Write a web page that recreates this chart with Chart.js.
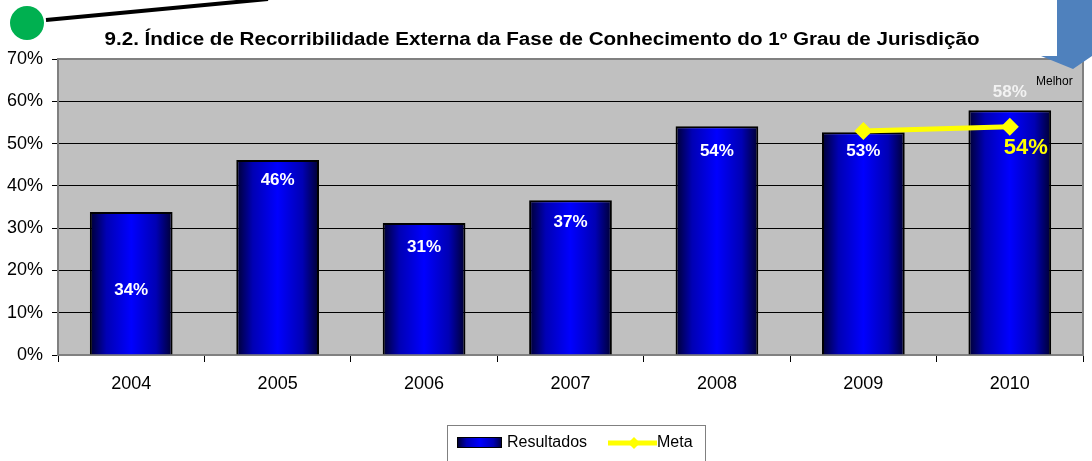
<!DOCTYPE html>
<html>
<head>
<meta charset="utf-8">
<script src="https://cdn.jsdelivr.net/npm/chart.js@4/dist/chart.umd.min.js"></script>
<style>
    html, body { margin: 0; padding: 0; background: #fff; }
    #wrap { width: 1092px; height: 461px; position: relative; }
</style>
</head>
<body>
<div id="wrap"><canvas id="chart" width="1092" height="461"></canvas></div>
<script>
const years = ['2004', '2005', '2006', '2007', '2008', '2009', '2010'];
const resultados = [33.8, 46.1, 31.2, 36.6, 54.1, 52.7, 57.9];
const resultadosLabels = ['34%', '46%', '31%', '37%', '54%', '53%', '58%'];
const meta = [null, null, null, null, null, 53, 54];
const metaLabels = [null, null, null, null, null, null, '54%'];
const yTicks = [0, 10, 20, 30, 40, 50, 60, 70];

const titleText = '9.2. Índice de Recorribilidade Externa da Fase de Conhecimento do 1º Grau de Jurisdição';

// where each bar label sits (value units), as placed in the original
const labelAt = [15.4, 41.4, 25.5, 31.4, 48.2, 48.2, 62.2];
const metaLabelAt = [null, null, null, null, null, null, 48.9];

const FONT = 'Arial, "Liberation Sans", sans-serif';
const BAR_PCT = 0.565;

function barGradient(ctx, cx, w) {
    const g = ctx.createLinearGradient(cx - w / 2, 0, cx + w / 2, 0);
    g.addColorStop(0, '#000030');
    g.addColorStop(0.2, '#0000b4');
    g.addColorStop(0.5, '#0000ff');
    g.addColorStop(0.8, '#0000b4');
    g.addColorStop(1, '#000030');
    return g;
}

const decorPlugin = {
    id: 'decor',
    beforeDraw(chart) {
        const { ctx, chartArea: a } = chart;
        ctx.save();
        ctx.fillStyle = '#c0c0c0';
        ctx.fillRect(a.left, a.top, a.right - a.left, a.bottom - a.top);
        ctx.restore();
    },
    beforeDatasetsDraw(chart) {
        const { ctx, chartArea: a } = chart;
        ctx.save();
        ctx.strokeStyle = '#808080';
        ctx.lineWidth = 2;
        ctx.strokeRect(a.left, a.top, a.right - a.left, a.bottom - a.top);
        ctx.restore();
    },
    afterDraw(chart) {
        const { ctx } = chart;
        const x = chart.scales.x, y = chart.scales.y;
        ctx.save();

        // bar labels
        ctx.textAlign = 'center';
        ctx.textBaseline = 'middle';
        resultadosLabels.forEach((t, i) => {
            ctx.fillStyle = i === 6 ? '#f2f2f2' : '#ffffff';
            ctx.font = 'bold 17px ' + FONT;
            ctx.fillText(t, x.getPixelForValue(i), y.getPixelForValue(labelAt[i]));
        });
        metaLabels.forEach((t, i) => {
            if (!t) return;
            ctx.fillStyle = '#ffff00';
            ctx.font = 'bold 22px ' + FONT;
            ctx.fillText(t, x.getPixelForValue(i) + 16, y.getPixelForValue(metaLabelAt[i]));
        });

        // title, stretched a bit like the original
        ctx.fillStyle = '#000';
        ctx.font = 'bold 18px ' + FONT;
        const tw = ctx.measureText(titleText).width;
        ctx.save();
        ctx.translate(542, 40);
        ctx.scale(875 / tw, 1);
        ctx.fillText(titleText, 0, 0);
        ctx.restore();

        // green dot with line
        ctx.strokeStyle = '#000';
        ctx.lineWidth = 4;
        ctx.beginPath();
        ctx.moveTo(46, 20);
        ctx.lineTo(268, -1);
        ctx.stroke();
        ctx.fillStyle = '#00b050';
        ctx.beginPath();
        ctx.arc(27, 23, 17, 0, Math.PI * 2);
        ctx.fill();

        // blue arrow (Melhor)
        ctx.fillStyle = '#4f81bd';
        ctx.beginPath();
        ctx.moveTo(1057, 0);
        ctx.lineTo(1092, 0);
        ctx.lineTo(1092, 56);
        ctx.lineTo(1073, 69);
        ctx.lineTo(1041, 56);
        ctx.lineTo(1057, 56);
        ctx.closePath();
        ctx.fill();
        ctx.fillStyle = '#000';
        ctx.font = '12px ' + FONT;
        ctx.textAlign = 'left';
        ctx.fillText('Melhor', 1036, 82);

        // legend
        ctx.strokeStyle = '#808080';
        ctx.lineWidth = 1;
        ctx.fillStyle = '#fff';
        ctx.fillRect(447.5, 425.5, 258, 36);
        ctx.strokeRect(447.5, 425.5, 258, 36);
        ctx.fillStyle = barGradient(ctx, 480, 45);
        ctx.fillRect(457, 437, 45, 11);
        ctx.strokeStyle = '#000';
        ctx.strokeRect(457.5, 437.5, 44, 10);
        ctx.fillStyle = '#000';
        ctx.font = '16px ' + FONT;
        ctx.textBaseline = 'middle';
        ctx.fillText('Resultados', 507, 443);
        ctx.strokeStyle = '#ffff00';
        ctx.lineWidth = 5;
        ctx.beginPath();
        ctx.moveTo(608, 443);
        ctx.lineTo(657, 443);
        ctx.stroke();
        ctx.fillStyle = '#ffff00';
        ctx.beginPath();
        ctx.moveTo(634, 437);
        ctx.lineTo(640, 443);
        ctx.lineTo(634, 449);
        ctx.lineTo(628, 443);
        ctx.closePath();
        ctx.fill();
        ctx.fillStyle = '#000';
        ctx.fillText('Meta', 657, 443);

        ctx.restore();
    }
};

new Chart(document.getElementById('chart'), {
    data: {
        labels: years,
        datasets: [
            {
                type: 'bar',
                label: 'Resultados',
                data: resultados,
                backgroundColor: c => {
                    const xs = c.chart.scales.x;
                    if (!xs || c.dataIndex === undefined) return '#0000ff';
                    const cx = xs.getPixelForValue(c.dataIndex);
                    const w = (xs.width / years.length) * BAR_PCT;
                    if (!isFinite(cx) || !isFinite(w) || w <= 0) return '#0000ff';
                    return barGradient(c.chart.ctx, cx, w);
                },
                borderColor: '#000000',
                borderWidth: 2,
                borderSkipped: 'bottom',
                categoryPercentage: 1,
                barPercentage: BAR_PCT,
                order: 2
            },
            {
                type: 'line',
                label: 'Meta',
                data: meta,
                borderColor: '#ffff00',
                backgroundColor: '#ffff00',
                borderWidth: 5,
                pointStyle: 'rectRot',
                pointRadius: 9,
                pointBorderWidth: 0,
                spanGaps: false,
                order: 1
            }
        ]
    },
    options: {
        responsive: false,
        animation: false,
        layout: { padding: { top: 59, right: 5, left: 0, bottom: 0 } },
        plugins: {
            legend: { display: false },
            title: { display: false },
            tooltip: { enabled: false }
        },
        scales: {
            x: {
                grid: {
                    offset: true,
                    drawOnChartArea: false,
                    drawTicks: true,
                    tickLength: 7,
                    color: '#000'
                },
                border: { color: '#000', width: 1.5 },
                ticks: {
                    color: '#000',
                    padding: 11,
                    font: { family: FONT, size: 18 }
                },
                afterFit(s) { s.height = 106; }
            },
            y: {
                min: 0,
                max: 70,
                afterBuildTicks(s) { s.ticks = yTicks.map(v => ({ value: v })); },
                grid: {
                    color: '#000',
                    tickLength: 6,
                    lineWidth: 1
                },
                border: { color: '#808080', width: 2 },
                ticks: {
                    color: '#000',
                    padding: 9,
                    font: { family: FONT, size: 18 },
                    callback: v => v + '%'
                },
                afterFit(s) { s.width = 58; }
            }
        }
    },
    plugins: [decorPlugin]
});
</script>
</body>
</html>
